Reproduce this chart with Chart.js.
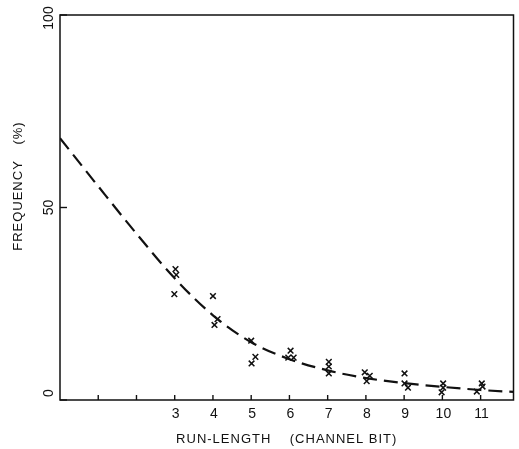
<!DOCTYPE html>
<html>
<head>
<meta charset="utf-8">
<script src="https://cdn.jsdelivr.net/npm/chart.js@4"></script>
<style>
html,body{margin:0;padding:0;background:#fff;}
#wrap{width:519px;height:449px;}
</style>
</head>
<body>
<div id="wrap"><canvas id="c" width="519" height="449"></canvas></div>
<script>
// Fitted curve (dashed)
const curveX = [0, 1, 2, 3, 4, 5, 6, 7, 8, 9, 10, 11, 11.86];
const curveY = [68, 55.5, 43.2, 31.6, 22.0, 15.0, 10.6, 7.7, 5.7, 4.4, 3.4, 2.6, 2.1];
// Measured points (x marks)
const pointX = [3.02, 3.04, 2.99, 4.0, 4.12, 4.04, 5.0, 5.11, 5.01, 6.03, 5.97, 6.11, 7.03, 7.03, 7.03, 7.97, 8.1, 8.02, 9.01, 9.01, 9.1, 10.02, 10.02, 9.98, 11.03, 11.05, 10.9];
const pointY = [34.0, 32.5, 27.5, 27.0, 21.0, 19.5, 15.4, 11.2, 9.5, 12.8, 11.0, 11.0, 9.9, 8.7, 6.9, 7.2, 6.3, 4.9, 6.9, 4.3, 3.2, 4.3, 3.2, 2.0, 4.3, 3.5, 2.2];
// Axes
const xTicks = [1, 2, 3, 4, 5, 6, 7, 8, 9, 10, 11];
const xTickLabels = ['', '', '3', '4', '5', '6', '7', '8', '9', '10', '11'];
const yTicks = [0, 50, 100];
const yTickLabels = ['0', '50', '100'];
const xTitle = 'RUN-LENGTH    (CHANNEL BIT)';
const yTitleMain = 'FREQUENCY';
const yTitleUnit = '(%)';

const INK = '#111111';
const FONT = '"Liberation Sans", Arial, sans-serif';

const framePlugin = {
  id: 'frame',
  afterDraw(chart) {
    const ctx = chart.ctx;
    const a = chart.chartArea;
    const xs = chart.scales.x, ys = chart.scales.y;
    ctx.save();
    ctx.strokeStyle = INK;
    ctx.lineWidth = 1.5;
    ctx.strokeRect(a.left, a.top, a.right - a.left, a.bottom - a.top);
    // inner tick marks
    ctx.lineWidth = 1.4;
    xTicks.forEach(v => {
      const px = xs.getPixelForValue(v);
      ctx.beginPath(); ctx.moveTo(px, a.bottom); ctx.lineTo(px, a.bottom - 5); ctx.stroke();
    });
    yTicks.forEach(v => {
      const py = ys.getPixelForValue(v);
      ctx.beginPath(); ctx.moveTo(a.left, py); ctx.lineTo(a.left + 7, py); ctx.stroke();
    });
    // text
    ctx.fillStyle = INK;
    ctx.font = '14px ' + FONT;
    ctx.textAlign = 'center';
    ctx.textBaseline = 'middle';
    // x tick labels
    xTicks.forEach((v, i) => {
      ctx.fillText(xTickLabels[i], xs.getPixelForValue(v) + 1, 414);
    });
    // y tick labels (rotated)
    yTicks.forEach((v, i) => {
      ctx.save();
      ctx.translate(49, Math.min(Math.max(ys.getPixelForValue(v), 18), 393));
      ctx.rotate(-Math.PI / 2);
      ctx.fillText(yTickLabels[i], 0, 0);
      ctx.restore();
    });
    // x title
    ctx.font = '13px ' + FONT;
    ctx.letterSpacing = '1px';
    ctx.fillText(xTitle, (a.left + a.right) / 2, 439);
    // y title
    ctx.save();
    ctx.translate(18, ys.getPixelForValue(50) - 2);
    ctx.rotate(-Math.PI / 2);
    ctx.fillText(yTitleMain, 0, 0);
    ctx.restore();
    ctx.save();
    ctx.translate(18, 133);
    ctx.rotate(-Math.PI / 2);
    ctx.fillText(yTitleUnit, 0, 0);
    ctx.restore();
    ctx.letterSpacing = '0px';
    ctx.restore();
  }
};

new Chart(document.getElementById('c'), {
  type: 'scatter',
  data: {
    datasets: [
      {
        type: 'line',
        data: curveX.map((x, i) => ({ x: x, y: curveY[i] })),
        borderColor: INK,
        borderWidth: 2.2,
        borderDash: [14, 7],
        cubicInterpolationMode: 'monotone',
        pointRadius: 0,
        fill: false
      },
      {
        type: 'scatter',
        data: pointX.map((x, i) => ({ x: x, y: pointY[i] })),
        pointStyle: 'crossRot',
        pointRadius: 4,
        borderColor: INK,
        backgroundColor: INK,
        borderWidth: 1.5
      }
    ]
  },
  options: {
    responsive: false,
    animation: false,
    devicePixelRatio: 1,
    layout: { padding: { left: 60, right: 3, top: 15, bottom: 49 } },
    plugins: { legend: { display: false }, tooltip: { enabled: false } },
    scales: {
      x: { type: 'linear', min: 0, max: 11.86, display: false },
      y: { type: 'linear', min: 0, max: 100, display: false }
    }
  },
  plugins: [framePlugin]
});
</script>
</body>
</html>
